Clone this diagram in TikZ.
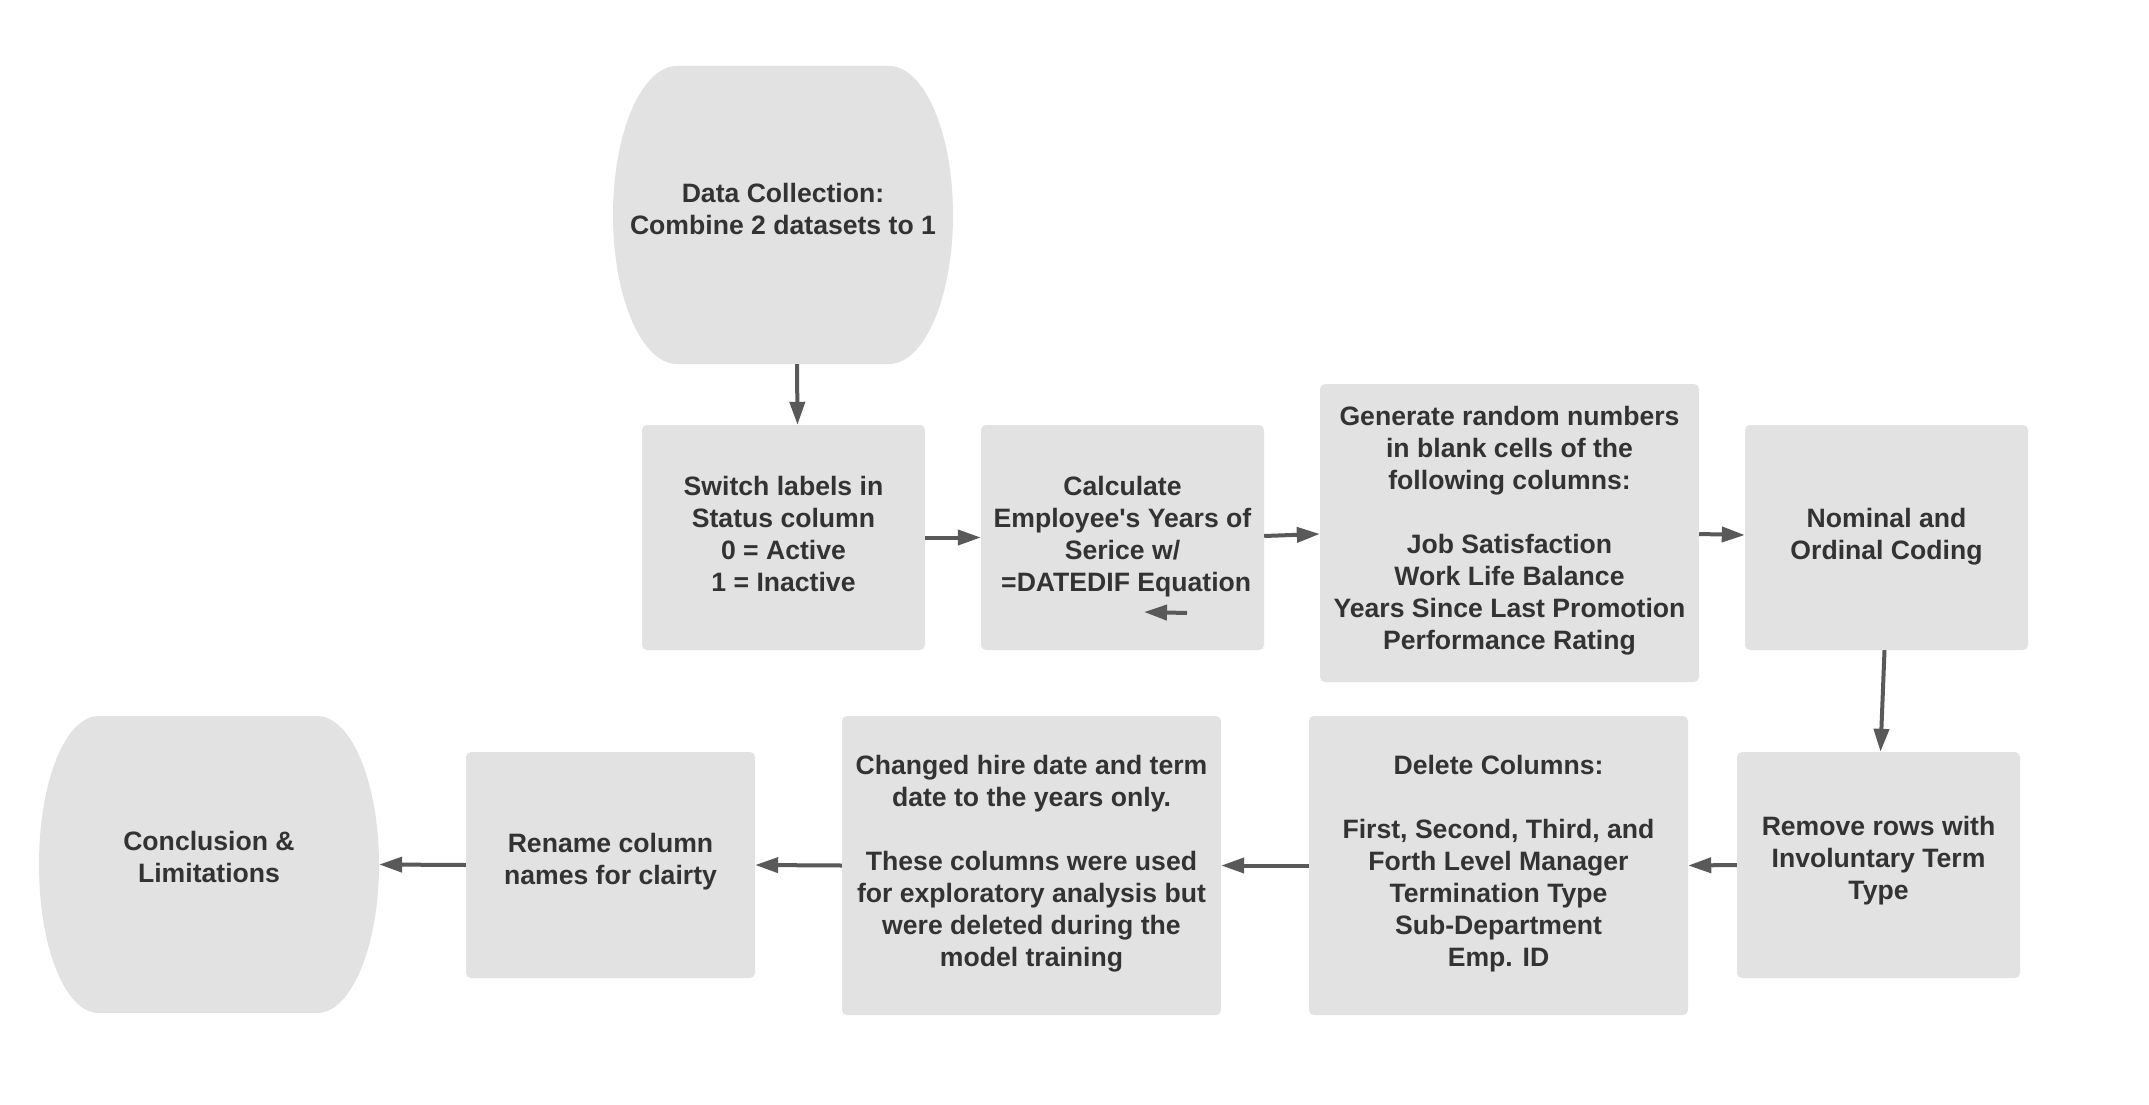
\documentclass[tikz,border=0pt]{standalone}
\usepackage{fontspec}
\setmainfont{Liberation Sans}
\usetikzlibrary{arrows.meta}
\definecolor{boxfill}{HTML}{E2E2E2}
\definecolor{txt}{HTML}{333333}
\definecolor{arrowc}{HTML}{595959}
\newcommand{\mytop}{\rule{0pt}{24pt}}
\newcommand{\mybot}[1]{\rule[-#1pt]{0pt}{#1pt}}
\begin{document}
\begin{tikzpicture}[x=1pt,y=-1pt,
  lbl/.style={inner sep=0pt, align=center, text=txt, font=\bfseries\fontsize{26.6}{32}\selectfont},
  stepbox/.style={lbl, rectangle, rounded corners=5pt, fill=boxfill},
  termbox/.style={lbl, rectangle},
  arr/.style={draw=arrowc, line width=4pt, -{Triangle[length=23pt,width=15pt]}}]
\fill[white] (0,0) rectangle (2149,1105);
\useasboundingbox (0,0) rectangle (2149,1105);

% terminal shapes
\fill[boxfill] (677,66) -- (889,66) .. controls (924.3,66) and (953,132.7) .. (953,215)
  .. controls (953,297.3) and (924.3,364) .. (889,364) -- (677,364)
  .. controls (641.7,364) and (613,297.3) .. (613,215)
  .. controls (613,132.7) and (641.7,66) .. (677,66) -- cycle;
\fill[boxfill] (99,716) -- (317,716) .. controls (351.2,716) and (379,782.5) .. (379,864.5)
  .. controls (379,946.5) and (351.2,1013) .. (317,1013) -- (99,1013)
  .. controls (64.8,1013) and (39,946.5) .. (39,864.5)
  .. controls (39,782.5) and (64.8,716) .. (99,716) -- cycle;

\node[termbox, minimum width=340pt, minimum height=298pt] (dc) at (783,215) {\mytop Data Collection:\\Combine 2 datasets to 1\mybot{17}};
\node[termbox, minimum width=340pt, minimum height=297pt] (concl) at (209,864.5) {\mytop Conclusion \&\\Limitations\mybot{20}};

\node[stepbox, minimum width=283pt, minimum height=225pt] (b1) at (783.5,537.5) {\mytop Switch labels in\\Status column\\0 = Active\\1 = Inactive\mybot{11.6}};
\node[stepbox, minimum width=283pt, minimum height=225pt] (b2) at (1122.5,537.5) {\mytop Calculate\\Employee\textquotesingle s Years of\\Serice w/\\\mbox{}\ =DATEDIF Equation\mybot{11.6}};
\node[stepbox, minimum width=379pt, minimum height=298pt] (b3) at (1509.5,533) {\mytop Generate random numbers\\in blank cells of the\\following columns:\\[32pt]Job Satisfaction\\Work Life Balance\\Years Since Last Promotion\\Performance Rating\mybot{15}};
\node[stepbox, minimum width=283pt, minimum height=225pt] (b4) at (1886.5,537.5) {\mytop Nominal and\\Ordinal Coding\mybot{11.6}};
\node[stepbox, minimum width=283pt, minimum height=226pt] (b5) at (1878.5,865) {\mytop Remove rows with\\Involuntary Term\\Type\mybot{19}};
\node[stepbox, minimum width=379pt, minimum height=299pt] (b6) at (1498.5,865.5) {\mytop Delete Columns:\\[32pt]First, Second, Third, and\\Forth Level Manager\\Termination Type\\Sub-Department\\Emp. ID\mybot{14}};
\node[stepbox, minimum width=379pt, minimum height=299pt] (b7) at (1031.5,865.5) {\mytop Changed hire date and term\\date to the years only.\\[32pt]These columns were used\\for exploratory analysis but\\were deleted during the\\model training\mybot{14}};
\node[stepbox, minimum width=289pt, minimum height=226pt] (b8) at (610.5,865) {\mytop Rename column\\names for clairty\mybot{16.4}};

\coordinate (s1) at (1187,613);
\coordinate (s2) at (1144,612);

\draw[arr] ([xshift=14pt]dc.south) -- ([xshift=14pt]b1.north);
\draw[arr] (b1.east) -- (b2.west);
\draw[arr] ([yshift=1.5pt]b2.east) -- ([yshift=-1pt]b3.west);
\draw[arr] ([yshift=-1pt]b3.east) -- ([yshift=2.5pt]b4.west);
\draw[arr] ([xshift=-2pt]b4.south) -- ([xshift=2pt]b5.north);
\draw[arr] (b5.west) -- (b6.east);
\draw[arr] (b6.west) -- (b7.east);
\draw[arr] (b7.west) -- (b8.east);
\draw[arr] (b8.west) -- (concl.east);
\draw[arr] (s1) -- (s2);
\end{tikzpicture}
\end{document}
